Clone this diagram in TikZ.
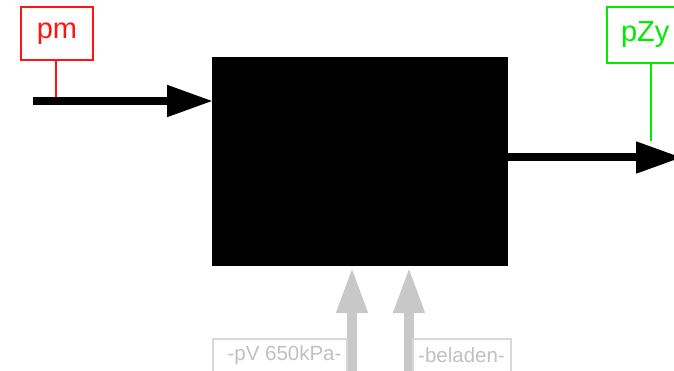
\documentclass[tikz,border=0pt]{standalone}
\usepackage{fontspec}
\setmainfont{Liberation Sans}
\usetikzlibrary{arrows.meta}
\definecolor{pmred}{RGB}{255,20,20}
\definecolor{zygreen}{RGB}{0,235,0}
\definecolor{arrgray}{RGB}{200,200,200}
\definecolor{lblgray}{RGB}{192,192,192}
\definecolor{boxgray}{RGB}{215,215,215}
\tikzset{
  bigarrow/.style={line width=8pt,-{Triangle[length=46pt,width=30pt]}},
  grayarrow/.style={line width=10pt,arrgray,-{Triangle[length=46pt,width=29pt]}},
  tagbox/.style={draw,line width=1.5pt,inner sep=0pt,outer sep=0pt,font=\fontsize{29}{31}\selectfont},
  graybox/.style={draw=boxgray,line width=1.5pt,inner sep=0pt,outer sep=0pt,text=lblgray,font=\fontsize{20.5}{22}\selectfont},
}
\begin{document}
\begin{tikzpicture}[x=1pt,y=-1pt]
\clip (0,0) rectangle (674,371);
\useasboundingbox (0,0) rectangle (674,371);
\node[fill=black,minimum width=296pt,minimum height=209pt,inner sep=0pt] (blk) at (360,161.5) {};
% input arrow
\coordinate (inS) at (33,101);
\coordinate (inE) at (213,101);
\draw[bigarrow] (inS) -- (inE);
\node[tagbox,color=pmred,minimum width=72pt,minimum height=53pt] (pm) at (57,33.5) {pm};
\coordinate (pmT) at (56,97);
\draw[pmred,line width=1.5pt] (pm.south -| pmT) -- (pmT);
% output arrow
\coordinate (outS) at (505,157.5);
\coordinate (outE) at (682,157.5);
\draw[bigarrow] (outS) -- (outE);
\node[tagbox,color=zygreen,minimum height=56pt,text width=70pt,inner xsep=14pt,align=left,anchor=north west] (pzy) at (607,7) {pZy};
\coordinate (zyT) at (651,141);
\draw[zygreen,line width=1.5pt] (pzy.south -| zyT) -- (zyT);
% bottom arrows
\coordinate (b1S) at (352,380);
\coordinate (b1E) at (352,267);
\coordinate (b2S) at (409,380);
\coordinate (b2E) at (409,267);
\draw[grayarrow] (b1S) -- (b1E);
\draw[grayarrow] (b2S) -- (b2E);
\node[graybox,minimum width=134pt,minimum height=40pt,anchor=north west] (pv) at (213,339) {};
\node[font=\fontsize{20.5}{22}\selectfont,text=lblgray,inner sep=0pt] (pvt) at (284.5,355) {-pV 650kPa-};
\node[graybox,minimum width=98pt,minimum height=40pt,anchor=north west] (bel) at (413,339) {};
\node[font=\fontsize{20.5}{22}\selectfont,text=lblgray,inner sep=0pt] (belt) at (461.5,355) {-beladen-};
\end{tikzpicture}
\end{document}
